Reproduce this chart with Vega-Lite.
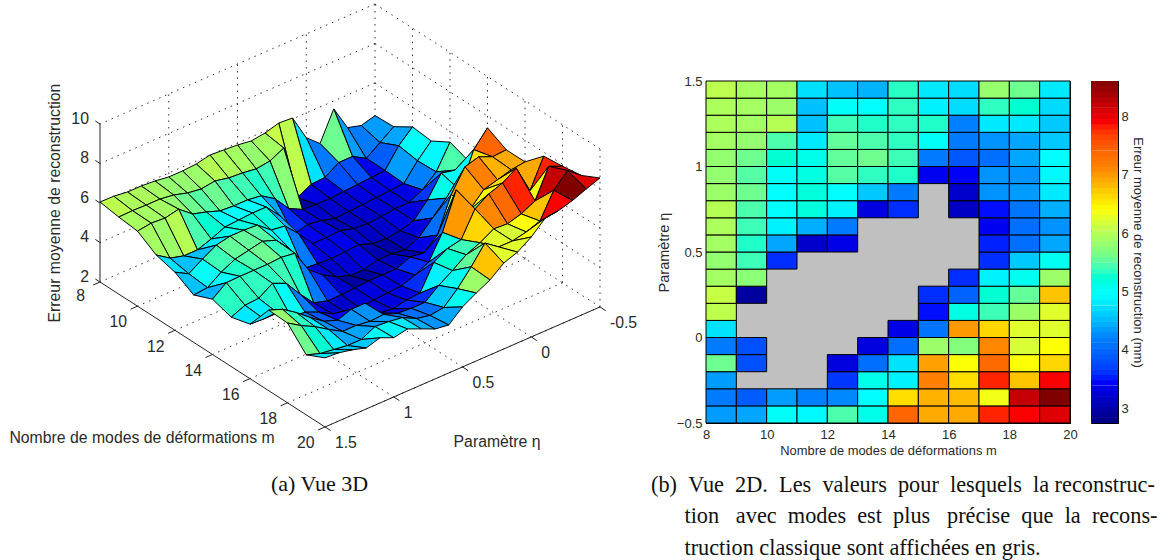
{"$schema":"https://vega.github.io/schema/vega-lite/v6.json","padding":0,"background":"white","bounds":"flush","spacing":0,
"config":{"view":{"stroke":null},"font":"Liberation Sans","title":{"fontWeight":"normal"}},
"datasets":{
"grid":[
{"k":800,"m":8,"eta":-0.5,"z":4.35},{"k":801,"m":8,"eta":-0.4,"z":4.15},{"k":802,"m":8,"eta":-0.3,"z":4.35},{"k":803,"m":8,"eta":-0.2,"z":5.6},{"k":804,"m":8,"eta":-0.1,"z":4.15},{"k":805,"m":8,"eta":0,"z":4.75},{"k":806,"m":8,"eta":0.1,"z":6.05},{"k":807,"m":8,"eta":0.2,"z":6.1},{"k":808,"m":8,"eta":0.3,"z":5.9},{"k":809,"m":8,"eta":0.4,"z":5.8},{"k":810,"m":8,"eta":0.5,"z":5.9},{"k":811,"m":8,"eta":0.6,"z":5.95},{"k":812,"m":8,"eta":0.7,"z":6.0},{"k":813,"m":8,"eta":0.8,"z":5.85},{"k":814,"m":8,"eta":0.9,"z":5.8},{"k":815,"m":8,"eta":1.0,"z":5.8},{"k":816,"m":8,"eta":1.1,"z":5.9},{"k":817,"m":8,"eta":1.2,"z":5.95},{"k":818,"m":8,"eta":1.3,"z":5.95},{"k":819,"m":8,"eta":1.4,"z":6.04},{"k":820,"m":8,"eta":1.5,"z":6.05},
{"k":900,"m":9,"eta":-0.5,"z":4.4},{"k":901,"m":9,"eta":-0.4,"z":3.9},{"k":902,"m":9,"eta":-0.3,"z":3.4,"best":1},{"k":903,"m":9,"eta":-0.2,"z":3.8},{"k":904,"m":9,"eta":-0.1,"z":3.8},{"k":905,"m":9,"eta":0,"z":3.35,"best":1},{"k":906,"m":9,"eta":0.1,"z":3.3,"best":1},{"k":907,"m":9,"eta":0.2,"z":2.95},{"k":908,"m":9,"eta":0.3,"z":5.75},{"k":909,"m":9,"eta":0.4,"z":5.4},{"k":910,"m":9,"eta":0.5,"z":5.3},{"k":911,"m":9,"eta":0.6,"z":5.4},{"k":912,"m":9,"eta":0.7,"z":5.45},{"k":913,"m":9,"eta":0.8,"z":5.6},{"k":914,"m":9,"eta":0.9,"z":5.5},{"k":915,"m":9,"eta":1.0,"z":5.6},{"k":916,"m":9,"eta":1.1,"z":5.8},{"k":917,"m":9,"eta":1.2,"z":5.9},{"k":918,"m":9,"eta":1.3,"z":5.9},{"k":919,"m":9,"eta":1.4,"z":5.92},{"k":920,"m":9,"eta":1.5,"z":5.9},
{"k":1000,"m":10,"eta":-0.5,"z":5.0},{"k":1001,"m":10,"eta":-0.4,"z":4.35},{"k":1002,"m":10,"eta":-0.3,"z":3.4,"best":1},{"k":1003,"m":10,"eta":-0.2,"z":3.35,"best":1},{"k":1004,"m":10,"eta":-0.1,"z":3.3,"best":1},{"k":1005,"m":10,"eta":0,"z":3.25,"best":1},{"k":1006,"m":10,"eta":0.1,"z":3.2,"best":1},{"k":1007,"m":10,"eta":0.2,"z":3.2,"best":1},{"k":1008,"m":10,"eta":0.3,"z":3.25,"best":1},{"k":1009,"m":10,"eta":0.4,"z":3.6},{"k":1010,"m":10,"eta":0.5,"z":4.4},{"k":1011,"m":10,"eta":0.6,"z":4.85},{"k":1012,"m":10,"eta":0.7,"z":4.95},{"k":1013,"m":10,"eta":0.8,"z":4.95},{"k":1014,"m":10,"eta":0.9,"z":5.0},{"k":1015,"m":10,"eta":1.0,"z":5.25},{"k":1016,"m":10,"eta":1.1,"z":5.45},{"k":1017,"m":10,"eta":1.2,"z":6.0},{"k":1018,"m":10,"eta":1.3,"z":5.85},{"k":1019,"m":10,"eta":1.4,"z":5.9},{"k":1020,"m":10,"eta":1.5,"z":5.8},
{"k":1100,"m":11,"eta":-0.5,"z":4.9},{"k":1101,"m":11,"eta":-0.4,"z":4.2},{"k":1102,"m":11,"eta":-0.3,"z":3.35,"best":1},{"k":1103,"m":11,"eta":-0.2,"z":3.3,"best":1},{"k":1104,"m":11,"eta":-0.1,"z":3.25,"best":1},{"k":1105,"m":11,"eta":0,"z":3.2,"best":1},{"k":1106,"m":11,"eta":0.1,"z":3.15,"best":1},{"k":1107,"m":11,"eta":0.2,"z":3.1,"best":1},{"k":1108,"m":11,"eta":0.3,"z":3.3,"best":1},{"k":1109,"m":11,"eta":0.4,"z":3.4,"best":1},{"k":1110,"m":11,"eta":0.5,"z":3.2},{"k":1111,"m":11,"eta":0.6,"z":4.45},{"k":1112,"m":11,"eta":0.7,"z":5.2},{"k":1113,"m":11,"eta":0.8,"z":5.2},{"k":1114,"m":11,"eta":0.9,"z":5.15},{"k":1115,"m":11,"eta":1.0,"z":5.1},{"k":1116,"m":11,"eta":1.1,"z":4.8},{"k":1117,"m":11,"eta":1.2,"z":4.55},{"k":1118,"m":11,"eta":1.3,"z":4.55},{"k":1119,"m":11,"eta":1.4,"z":4.74},{"k":1120,"m":11,"eta":1.5,"z":5.2},
{"k":1200,"m":12,"eta":-0.5,"z":5.45},{"k":1201,"m":12,"eta":-0.4,"z":4.25},{"k":1202,"m":12,"eta":-0.3,"z":3.65},{"k":1203,"m":12,"eta":-0.2,"z":3.3},{"k":1204,"m":12,"eta":-0.1,"z":3.3,"best":1},{"k":1205,"m":12,"eta":0,"z":3.2,"best":1},{"k":1206,"m":12,"eta":0.1,"z":3.15,"best":1},{"k":1207,"m":12,"eta":0.2,"z":3.2,"best":1},{"k":1208,"m":12,"eta":0.3,"z":3.4,"best":1},{"k":1209,"m":12,"eta":0.4,"z":3.35,"best":1},{"k":1210,"m":12,"eta":0.5,"z":3.35},{"k":1211,"m":12,"eta":0.6,"z":4.15},{"k":1212,"m":12,"eta":0.7,"z":4.85},{"k":1213,"m":12,"eta":0.8,"z":4.95},{"k":1214,"m":12,"eta":0.9,"z":5.5},{"k":1215,"m":12,"eta":1.0,"z":5.55},{"k":1216,"m":12,"eta":1.1,"z":5.55},{"k":1217,"m":12,"eta":1.2,"z":5.4},{"k":1218,"m":12,"eta":1.3,"z":5.0},{"k":1219,"m":12,"eta":1.4,"z":4.56},{"k":1220,"m":12,"eta":1.5,"z":4.94},
{"k":1300,"m":13,"eta":-0.5,"z":5.1},{"k":1301,"m":13,"eta":-0.4,"z":4.95},{"k":1302,"m":13,"eta":-0.3,"z":5.1},{"k":1303,"m":13,"eta":-0.2,"z":4.05},{"k":1304,"m":13,"eta":-0.1,"z":3.3},{"k":1305,"m":13,"eta":0,"z":3.1,"best":1},{"k":1306,"m":13,"eta":0.1,"z":3.0,"best":1},{"k":1307,"m":13,"eta":0.2,"z":3.05,"best":1},{"k":1308,"m":13,"eta":0.3,"z":3.3,"best":1},{"k":1309,"m":13,"eta":0.4,"z":3.25,"best":1},{"k":1310,"m":13,"eta":0.5,"z":3.2,"best":1},{"k":1311,"m":13,"eta":0.6,"z":3.25,"best":1},{"k":1312,"m":13,"eta":0.7,"z":3.3},{"k":1313,"m":13,"eta":0.8,"z":4.6},{"k":1314,"m":13,"eta":0.9,"z":5.35},{"k":1315,"m":13,"eta":1.0,"z":5.6},{"k":1316,"m":13,"eta":1.1,"z":5.45},{"k":1317,"m":13,"eta":1.2,"z":5.3},{"k":1318,"m":13,"eta":1.3,"z":4.95},{"k":1319,"m":13,"eta":1.4,"z":4.47},{"k":1320,"m":13,"eta":1.5,"z":4.4},
{"k":1400,"m":14,"eta":-0.5,"z":7.4},{"k":1401,"m":14,"eta":-0.4,"z":6.6},{"k":1402,"m":14,"eta":-0.3,"z":4.85},{"k":1403,"m":14,"eta":-0.2,"z":4.75},{"k":1404,"m":14,"eta":-0.1,"z":4.05},{"k":1405,"m":14,"eta":0,"z":3.35},{"k":1406,"m":14,"eta":0.1,"z":3.05,"best":1},{"k":1407,"m":14,"eta":0.2,"z":3.15,"best":1},{"k":1408,"m":14,"eta":0.3,"z":3.15,"best":1},{"k":1409,"m":14,"eta":0.4,"z":2.95,"best":1},{"k":1410,"m":14,"eta":0.5,"z":2.95,"best":1},{"k":1411,"m":14,"eta":0.6,"z":3.2,"best":1},{"k":1412,"m":14,"eta":0.7,"z":3.6},{"k":1413,"m":14,"eta":0.8,"z":4.15},{"k":1414,"m":14,"eta":0.9,"z":5.3},{"k":1415,"m":14,"eta":1.0,"z":5.4},{"k":1416,"m":14,"eta":1.1,"z":5.35},{"k":1417,"m":14,"eta":1.2,"z":5.35},{"k":1418,"m":14,"eta":1.3,"z":5.35},{"k":1419,"m":14,"eta":1.4,"z":5.33},{"k":1420,"m":14,"eta":1.5,"z":4.8},
{"k":1500,"m":15,"eta":-0.5,"z":6.9},{"k":1501,"m":15,"eta":-0.4,"z":6.85},{"k":1502,"m":15,"eta":-0.3,"z":7.15},{"k":1503,"m":15,"eta":-0.2,"z":6.95},{"k":1504,"m":15,"eta":-0.1,"z":5.85},{"k":1505,"m":15,"eta":0,"z":4.1},{"k":1506,"m":15,"eta":0.1,"z":3.5},{"k":1507,"m":15,"eta":0.2,"z":3.6},{"k":1508,"m":15,"eta":0.3,"z":3.3,"best":1},{"k":1509,"m":15,"eta":0.4,"z":3.3,"best":1},{"k":1510,"m":15,"eta":0.5,"z":3.3,"best":1},{"k":1511,"m":15,"eta":0.6,"z":3.25,"best":1},{"k":1512,"m":15,"eta":0.7,"z":3.2,"best":1},{"k":1513,"m":15,"eta":0.8,"z":3.2,"best":1},{"k":1514,"m":15,"eta":0.9,"z":3.4},{"k":1515,"m":15,"eta":1.0,"z":4.15},{"k":1516,"m":15,"eta":1.1,"z":5.0},{"k":1517,"m":15,"eta":1.2,"z":5.3},{"k":1518,"m":15,"eta":1.3,"z":4.85},{"k":1519,"m":15,"eta":1.4,"z":4.8},{"k":1520,"m":15,"eta":1.5,"z":4.5},
{"k":1600,"m":16,"eta":-0.5,"z":6.9},{"k":1601,"m":16,"eta":-0.4,"z":6.8},{"k":1602,"m":16,"eta":-0.3,"z":6.6},{"k":1603,"m":16,"eta":-0.2,"z":6.4},{"k":1604,"m":16,"eta":-0.1,"z":5.7},{"k":1605,"m":16,"eta":0,"z":7.0},{"k":1606,"m":16,"eta":0.1,"z":5.15},{"k":1607,"m":16,"eta":0.2,"z":3.95},{"k":1608,"m":16,"eta":0.3,"z":3.6},{"k":1609,"m":16,"eta":0.4,"z":3.35,"best":1},{"k":1610,"m":16,"eta":0.5,"z":3.3,"best":1},{"k":1611,"m":16,"eta":0.6,"z":3.25,"best":1},{"k":1612,"m":16,"eta":0.7,"z":3.15},{"k":1613,"m":16,"eta":0.8,"z":3.2},{"k":1614,"m":16,"eta":0.9,"z":3.45},{"k":1615,"m":16,"eta":1.0,"z":3.85},{"k":1616,"m":16,"eta":1.1,"z":4.15},{"k":1617,"m":16,"eta":1.2,"z":4.2},{"k":1618,"m":16,"eta":1.3,"z":4.72},{"k":1619,"m":16,"eta":1.4,"z":4.72},{"k":1620,"m":16,"eta":1.5,"z":4.76},
{"k":1700,"m":17,"eta":-0.5,"z":7.8},{"k":1701,"m":17,"eta":-0.4,"z":6.35},{"k":1702,"m":17,"eta":-0.3,"z":7.8},{"k":1703,"m":17,"eta":-0.2,"z":7.35},{"k":1704,"m":17,"eta":-0.1,"z":7.1},{"k":1705,"m":17,"eta":0,"z":6.65},{"k":1706,"m":17,"eta":0.1,"z":5.4},{"k":1707,"m":17,"eta":0.2,"z":5.25},{"k":1708,"m":17,"eta":0.3,"z":4.85},{"k":1709,"m":17,"eta":0.4,"z":3.6},{"k":1710,"m":17,"eta":0.5,"z":3.55},{"k":1711,"m":17,"eta":0.6,"z":3.4},{"k":1712,"m":17,"eta":0.7,"z":3.5},{"k":1713,"m":17,"eta":0.8,"z":4.3},{"k":1714,"m":17,"eta":0.9,"z":4.3},{"k":1715,"m":17,"eta":1.0,"z":4.05},{"k":1716,"m":17,"eta":1.1,"z":4.3},{"k":1717,"m":17,"eta":1.2,"z":4.8},{"k":1718,"m":17,"eta":1.3,"z":5.35},{"k":1719,"m":17,"eta":1.4,"z":5.82},{"k":1720,"m":17,"eta":1.5,"z":6.08},
{"k":1800,"m":18,"eta":-0.5,"z":7.9},{"k":1801,"m":18,"eta":-0.4,"z":8.2},{"k":1802,"m":18,"eta":-0.3,"z":6.75},{"k":1803,"m":18,"eta":-0.2,"z":6.4},{"k":1804,"m":18,"eta":-0.1,"z":6.2},{"k":1805,"m":18,"eta":0,"z":6.25},{"k":1806,"m":18,"eta":0.1,"z":5.85},{"k":1807,"m":18,"eta":0.2,"z":5.55},{"k":1808,"m":18,"eta":0.3,"z":5.05},{"k":1809,"m":18,"eta":0.4,"z":4.6},{"k":1810,"m":18,"eta":0.5,"z":4.05},{"k":1811,"m":18,"eta":0.6,"z":4.05},{"k":1812,"m":18,"eta":0.7,"z":4.1},{"k":1813,"m":18,"eta":0.8,"z":4.35},{"k":1814,"m":18,"eta":0.9,"z":4.3},{"k":1815,"m":18,"eta":1.0,"z":4.4},{"k":1816,"m":18,"eta":1.1,"z":4.4},{"k":1817,"m":18,"eta":1.2,"z":4.8},{"k":1818,"m":18,"eta":1.3,"z":5.25},{"k":1819,"m":18,"eta":1.4,"z":5.6},{"k":1820,"m":18,"eta":1.5,"z":6.04},
{"k":1900,"m":19,"eta":-0.5,"z":8.05},{"k":1901,"m":19,"eta":-0.4,"z":8.6},{"k":1902,"m":19,"eta":-0.3,"z":7.9},{"k":1903,"m":19,"eta":-0.2,"z":6.65},{"k":1904,"m":19,"eta":-0.1,"z":6.4},{"k":1905,"m":19,"eta":0,"z":6.25},{"k":1906,"m":19,"eta":0.1,"z":6.25},{"k":1907,"m":19,"eta":0.2,"z":6.75},{"k":1908,"m":19,"eta":0.3,"z":5.85},{"k":1909,"m":19,"eta":0.4,"z":5.05},{"k":1910,"m":19,"eta":0.5,"z":4.4},{"k":1911,"m":19,"eta":0.6,"z":4.3},{"k":1912,"m":19,"eta":0.7,"z":4.45},{"k":1913,"m":19,"eta":0.8,"z":4.8},{"k":1914,"m":19,"eta":0.9,"z":4.9},{"k":1915,"m":19,"eta":1.0,"z":4.95},{"k":1916,"m":19,"eta":1.1,"z":4.6},{"k":1917,"m":19,"eta":1.2,"z":4.6},{"k":1918,"m":19,"eta":1.3,"z":4.7},{"k":1919,"m":19,"eta":1.4,"z":4.8},{"k":1920,"m":19,"eta":1.5,"z":5.04},
{"k":2000,"m":20,"eta":-0.5,"z":8.53},{"k":2001,"m":20,"eta":-0.4,"z":8.28},{"k":2002,"m":20,"eta":-0.3,"z":8.0},{"k":2003,"m":20,"eta":-0.2,"z":7.8},{"k":2004,"m":20,"eta":-0.1,"z":7.7},{"k":2005,"m":20,"eta":0,"z":7.06},{"k":2006,"m":20,"eta":0.1,"z":6.6},{"k":2007,"m":20,"eta":0.2,"z":6.35},{"k":2008,"m":20,"eta":0.3,"z":5.8},{"k":2009,"m":20,"eta":0.4,"z":5.44},{"k":2010,"m":20,"eta":0.5,"z":5.04},{"k":2011,"m":20,"eta":0.6,"z":4.43},{"k":2012,"m":20,"eta":0.7,"z":4.53},{"k":2013,"m":20,"eta":0.8,"z":4.84},{"k":2014,"m":20,"eta":0.9,"z":5.14},{"k":2015,"m":20,"eta":1.0,"z":5.0},{"k":2016,"m":20,"eta":1.1,"z":5.3},{"k":2017,"m":20,"eta":1.2,"z":5.09},{"k":2018,"m":20,"eta":1.3,"z":5.3},{"k":2019,"m":20,"eta":1.4,"z":5.45},{"k":2020,"m":20,"eta":1.5,"z":5.5}
]},
"hconcat":[
{"width":706,"height":450,"view":{"fill":"white","stroke":null},
"title":{"text":"(a) Vue 3D","orient":"bottom","anchor":"start","frame":"group","dx":271,"offset":23,"font":"Liberation Serif","fontSize":22,"color":"#111"},
"encoding":{
"x":{"field":"sx","type":"quantitative","scale":{"domain":[0,706],"nice":false,"zero":false},"axis":null},
"y":{"field":"sy","type":"quantitative","scale":{"domain":[450,0],"nice":false,"zero":false},"axis":null}},
"layer":[
{"data":{"values":[
{"l":1,"p":0,"m":8,"eta":-0.5,"z":2},{"l":1,"p":1,"m":8,"eta":1.5,"z":2},{"l":2,"p":0,"m":10,"eta":-0.5,"z":2},{"l":2,"p":1,"m":10,"eta":1.5,"z":2},{"l":3,"p":0,"m":12,"eta":-0.5,"z":2},{"l":3,"p":1,"m":12,"eta":1.5,"z":2},{"l":4,"p":0,"m":14,"eta":-0.5,"z":2},{"l":4,"p":1,"m":14,"eta":1.5,"z":2},{"l":5,"p":0,"m":16,"eta":-0.5,"z":2},{"l":5,"p":1,"m":16,"eta":1.5,"z":2},{"l":6,"p":0,"m":18,"eta":-0.5,"z":2},{"l":6,"p":1,"m":18,"eta":1.5,"z":2},{"l":7,"p":0,"m":20,"eta":-0.5,"z":2},{"l":7,"p":1,"m":20,"eta":1.5,"z":2},
{"l":8,"p":0,"m":8,"eta":-0.5,"z":2},{"l":8,"p":1,"m":20,"eta":-0.5,"z":2},{"l":9,"p":0,"m":8,"eta":0,"z":2},{"l":9,"p":1,"m":20,"eta":0,"z":2},{"l":10,"p":0,"m":8,"eta":0.5,"z":2},{"l":10,"p":1,"m":20,"eta":0.5,"z":2},{"l":11,"p":0,"m":8,"eta":1,"z":2},{"l":11,"p":1,"m":20,"eta":1,"z":2},
{"l":12,"p":0,"m":8,"eta":-0.5,"z":4},{"l":12,"p":1,"m":8,"eta":1.5,"z":4},{"l":13,"p":0,"m":8,"eta":-0.5,"z":6},{"l":13,"p":1,"m":8,"eta":1.5,"z":6},{"l":14,"p":0,"m":8,"eta":-0.5,"z":8},{"l":14,"p":1,"m":8,"eta":1.5,"z":8},{"l":15,"p":0,"m":8,"eta":-0.5,"z":10},{"l":15,"p":1,"m":8,"eta":1.5,"z":10},
{"l":16,"p":0,"m":8,"eta":1,"z":2},{"l":16,"p":1,"m":8,"eta":1,"z":10},{"l":17,"p":0,"m":8,"eta":0.5,"z":2},{"l":17,"p":1,"m":8,"eta":0.5,"z":10},{"l":18,"p":0,"m":8,"eta":0,"z":2},{"l":18,"p":1,"m":8,"eta":0,"z":10},{"l":19,"p":0,"m":8,"eta":-0.5,"z":2},{"l":19,"p":1,"m":8,"eta":-0.5,"z":10},
{"l":20,"p":0,"m":8,"eta":-0.5,"z":4},{"l":20,"p":1,"m":20,"eta":-0.5,"z":4},{"l":21,"p":0,"m":8,"eta":-0.5,"z":6},{"l":21,"p":1,"m":20,"eta":-0.5,"z":6},{"l":22,"p":0,"m":8,"eta":-0.5,"z":8},{"l":22,"p":1,"m":20,"eta":-0.5,"z":8},{"l":23,"p":0,"m":8,"eta":-0.5,"z":10},{"l":23,"p":1,"m":20,"eta":-0.5,"z":10},
{"l":24,"p":0,"m":10,"eta":-0.5,"z":2},{"l":24,"p":1,"m":10,"eta":-0.5,"z":10},{"l":25,"p":0,"m":12,"eta":-0.5,"z":2},{"l":25,"p":1,"m":12,"eta":-0.5,"z":10},{"l":26,"p":0,"m":14,"eta":-0.5,"z":2},{"l":26,"p":1,"m":14,"eta":-0.5,"z":10},{"l":27,"p":0,"m":16,"eta":-0.5,"z":2},{"l":27,"p":1,"m":16,"eta":-0.5,"z":10},{"l":28,"p":0,"m":18,"eta":-0.5,"z":2},{"l":28,"p":1,"m":18,"eta":-0.5,"z":10},{"l":29,"p":0,"m":20,"eta":-0.5,"z":2},{"l":29,"p":1,"m":20,"eta":-0.5,"z":10}
]},
"transform":[{"calculate":"100+18.75*(datum.m-8)+137.5*(1.5-datum.eta)","as":"sx"},{"calculate":"282+12.08*(datum.m-8)-60*(1.5-datum.eta)-19.75*(datum.z-2)","as":"sy"}],
"mark":{"type":"line","stroke":"#333333","strokeWidth":1,"strokeDash":[1.5,5]},
"encoding":{"detail":{"field":"l"},"order":{"field":"p"}}},
{"data":{"values":[
{"l":1,"p":0,"m":8,"eta":1.5,"z":2},{"l":1,"p":1,"m":20,"eta":1.5,"z":2},{"l":2,"p":0,"m":20,"eta":1.5,"z":2},{"l":2,"p":1,"m":20,"eta":-0.5,"z":2},{"l":3,"p":0,"m":8,"eta":1.5,"z":2},{"l":3,"p":1,"m":8,"eta":1.5,"z":10},
{"l":4,"p":0,"m":8,"eta":1.5,"z":2},{"l":4,"p":1,"m":8,"eta":1.55,"z":2},{"l":5,"p":0,"m":10,"eta":1.5,"z":2},{"l":5,"p":1,"m":10,"eta":1.55,"z":2},{"l":6,"p":0,"m":12,"eta":1.5,"z":2},{"l":6,"p":1,"m":12,"eta":1.55,"z":2},{"l":7,"p":0,"m":14,"eta":1.5,"z":2},{"l":7,"p":1,"m":14,"eta":1.55,"z":2},{"l":8,"p":0,"m":16,"eta":1.5,"z":2},{"l":8,"p":1,"m":16,"eta":1.55,"z":2},{"l":9,"p":0,"m":18,"eta":1.5,"z":2},{"l":9,"p":1,"m":18,"eta":1.55,"z":2},{"l":10,"p":0,"m":20,"eta":1.5,"z":2},{"l":10,"p":1,"m":20,"eta":1.55,"z":2},
{"l":11,"p":0,"m":20,"eta":1.5,"z":2},{"l":11,"p":1,"m":20.3,"eta":1.5,"z":2},{"l":12,"p":0,"m":20,"eta":1,"z":2},{"l":12,"p":1,"m":20.3,"eta":1,"z":2},{"l":13,"p":0,"m":20,"eta":0.5,"z":2},{"l":13,"p":1,"m":20.3,"eta":0.5,"z":2},{"l":14,"p":0,"m":20,"eta":0,"z":2},{"l":14,"p":1,"m":20.3,"eta":0,"z":2},{"l":15,"p":0,"m":20,"eta":-0.5,"z":2},{"l":15,"p":1,"m":20.3,"eta":-0.5,"z":2},
{"l":16,"p":0,"m":8,"eta":1.5,"z":2},{"l":16,"p":1,"m":7.75,"eta":1.5,"z":2},{"l":17,"p":0,"m":8,"eta":1.5,"z":4},{"l":17,"p":1,"m":7.75,"eta":1.5,"z":4},{"l":18,"p":0,"m":8,"eta":1.5,"z":6},{"l":18,"p":1,"m":7.75,"eta":1.5,"z":6},{"l":19,"p":0,"m":8,"eta":1.5,"z":8},{"l":19,"p":1,"m":7.75,"eta":1.5,"z":8},{"l":20,"p":0,"m":8,"eta":1.5,"z":10},{"l":20,"p":1,"m":7.75,"eta":1.5,"z":10}
]},
"transform":[{"calculate":"100+18.75*(datum.m-8)+137.5*(1.5-datum.eta)","as":"sx"},{"calculate":"282+12.08*(datum.m-8)-60*(1.5-datum.eta)-19.75*(datum.z-2)","as":"sy"}],
"mark":{"type":"line","stroke":"#222222","strokeWidth":1},
"encoding":{"detail":{"field":"l"},"order":{"field":"p"}}},
{"data":{"name":"grid"},
"transform":[{"filter":"datum.m<20 && datum.eta<1.5"},{"calculate":"[0,1,2,3]","as":"corner"},{"flatten":["corner"]},
{"calculate":"datum.m+((datum.corner==1||datum.corner==2)?1:0)","as":"cm"},
{"calculate":"round(datum.eta*10)+5+(datum.corner>=2?1:0)","as":"ci"},
{"calculate":"datum.cm*100+datum.ci","as":"ck"},
{"lookup":"ck","from":{"data":{"name":"grid"},"key":"k","fields":["z"]},"as":["cz"]},
{"calculate":"100+18.75*(datum.cm-8)+137.5*(1.5-(datum.ci-5)/10)","as":"sx"},
{"calculate":"282+12.08*(datum.cm-8)-60*(1.5-(datum.ci-5)/10)-19.75*(datum.cz-2)","as":"sy"}],
"mark":{"type":"line","interpolate":"linear-closed","stroke":"#000000","strokeWidth":1},
"encoding":{"detail":{"field":"k"},"order":{"field":"corner"},
"fill":{"field":"z","type":"quantitative","legend":null,"scale":{"domain":[2.75,3.48,4.21,4.94,5.68,6.41,7.14,7.87,8.6],"range":["#000080","#0000ff","#0080ff","#00ffff","#80ff80","#ffff00","#ff8000","#ff0000","#800000"]}}}},
{"data":{"values":[
{"t":"8","m":8,"eta":1.64,"z":1.7},{"t":"10","m":10,"eta":1.64,"z":1.6},{"t":"12","m":12,"eta":1.64,"z":1.6},{"t":"14","m":14,"eta":1.64,"z":1.6},{"t":"16","m":16,"eta":1.64,"z":1.6},{"t":"18","m":18,"eta":1.64,"z":1.6},{"t":"20","m":20,"eta":1.64,"z":1.6},
{"t":"Nombre de modes de déformations m","m":10.24,"eta":1.5,"z":-4.53},{"t":"Paramètre η","m":20,"eta":0.249,"z":-2.56}
]},
"transform":[{"calculate":"100+18.75*(datum.m-8)+137.5*(1.5-datum.eta)","as":"sx"},{"calculate":"282+12.08*(datum.m-8)-60*(1.5-datum.eta)-19.75*(datum.z-2)","as":"sy"}],
"mark":{"type":"text","align":"center","baseline":"middle","fontSize":15.8,"color":"#2a2a2a"},"encoding":{"text":{"field":"t"}}},
{"data":{"values":[
{"t":"1.5","m":20.53,"eta":1.5,"z":1.5},{"t":"1","m":20.53,"eta":1,"z":1.5},{"t":"0.5","m":20.53,"eta":0.5,"z":1.5},{"t":"0","m":20.53,"eta":0,"z":1.5},{"t":"-0.5","m":20.53,"eta":-0.5,"z":1.5}
]},
"transform":[{"calculate":"100+18.75*(datum.m-8)+137.5*(1.5-datum.eta)","as":"sx"},{"calculate":"282+12.08*(datum.m-8)-60*(1.5-datum.eta)-19.75*(datum.z-2)","as":"sy"}],
"mark":{"type":"text","align":"left","baseline":"middle","fontSize":15.8,"color":"#2a2a2a"},"encoding":{"text":{"field":"t"}}},
{"data":{"values":[
{"t":"2","m":7.41,"eta":1.5,"z":1.9},{"t":"4","m":7.41,"eta":1.5,"z":3.9},{"t":"6","m":7.41,"eta":1.5,"z":5.9},{"t":"8","m":7.41,"eta":1.5,"z":7.9},{"t":"10","m":7.41,"eta":1.5,"z":9.9}
]},
"transform":[{"calculate":"100+18.75*(datum.m-8)+137.5*(1.5-datum.eta)","as":"sx"},{"calculate":"282+12.08*(datum.m-8)-60*(1.5-datum.eta)-19.75*(datum.z-2)","as":"sy"}],
"mark":{"type":"text","align":"right","baseline":"middle","fontSize":15.8,"color":"#2a2a2a"},"encoding":{"text":{"field":"t"}}},
{"data":{"values":[{"t":"Erreur moyenne de reconstruction","m":8,"eta":1.827,"z":6.99}]},
"transform":[{"calculate":"100+18.75*(datum.m-8)+137.5*(1.5-datum.eta)","as":"sx"},{"calculate":"282+12.08*(datum.m-8)-60*(1.5-datum.eta)-19.75*(datum.z-2)","as":"sy"}],
"mark":{"type":"text","align":"center","baseline":"middle","angle":270,"fontSize":15.8,"color":"#2a2a2a"},"encoding":{"text":{"field":"t"}}}
]},
{"bounds":"flush","spacing":0,"vconcat":[
{"width":10,"height":81,"data":{"values":[{"n":0}]},"mark":{"type":"point","opacity":0},"encoding":{}},
{"bounds":"flush","spacing":21,"hconcat":[
{"width":364,"height":342,"view":{"stroke":"#000000"},
"title":{"text":["(b)\u00a0\u00a0Vue\u00a0\u00a02D.\u00a0\u00a0Les\u00a0\u00a0valeurs\u00a0\u00a0pour\u00a0\u00a0lesquels\u00a0\u00a0la\u00a0reconstruc-","\u200b\u00a0\u00a0\u00a0\u00a0\u00a0\u00a0tion\u00a0\u00a0\u00a0avec\u00a0\u00a0modes\u00a0\u00a0est\u00a0\u00a0plus\u00a0\u00a0\u00a0précise\u00a0\u00a0que\u00a0\u00a0la\u00a0\u00a0recons-","\u200b\u00a0\u00a0\u00a0\u00a0\u00a0\u00a0truction\u00a0classique\u00a0sont\u00a0affichées\u00a0en\u00a0gris."],"orient":"bottom","anchor":"start","frame":"group","dx":-55,"offset":17,"font":"Liberation Serif","fontSize":22.3,"lineHeight":31.5,"color":"#111"},
"data":{"name":"grid"},
"transform":[{"filter":"datum.m<20 && datum.eta<1.5"},{"calculate":"datum.m+1","as":"m2"},{"calculate":"datum.eta+0.1","as":"eta2"}],
"encoding":{
"x":{"field":"m","type":"quantitative","scale":{"domain":[8,20],"nice":false,"zero":false},"axis":{"values":[8,10,12,14,16,18,20],"title":"Nombre de modes de déformations m","titleFontSize":12.9,"titleFontWeight":"normal","titleColor":"#2a2a2a","titlePadding":3,"labelFontSize":13,"labelColor":"#2a2a2a","grid":false,"tickSize":-4,"tickColor":"#000","domainColor":"#000","labelPadding":9,"labelFlush":false}},
"x2":{"field":"m2"},
"y":{"field":"eta","type":"quantitative","scale":{"domain":[-0.5,1.5],"nice":false,"zero":false},"axis":{"values":[-0.5,0,0.5,1,1.5],"format":"~g","title":"Paramètre η","titleFontSize":14.5,"titleFontWeight":"normal","titleColor":"#2a2a2a","titlePadding":5,"labelFontSize":13,"labelColor":"#2a2a2a","grid":false,"tickSize":-4,"tickColor":"#000","domainColor":"#000","labelPadding":8}},
"y2":{"field":"eta2"}},
"layer":[
{"transform":[{"filter":"datum.best==1"}],"mark":{"type":"rect","fill":"#c0c0c0","stroke":"#c0c0c0","strokeWidth":1}},
{"transform":[{"filter":"datum.best!=1"}],"mark":{"type":"rect","stroke":"#000000","strokeWidth":1},
"encoding":{"fill":{"field":"z","type":"quantitative","legend":null,"scale":{"domain":[2.75,3.48,4.21,4.94,5.68,6.41,7.14,7.87,8.6],"range":["#000080","#0000ff","#0080ff","#00ffff","#80ff80","#ffff00","#ff8000","#ff0000","#800000"]}}}}
]},
{"width":27,"height":342,"view":{"stroke":"#000000"},
"data":{"values":[{"mid":2.8},{"mid":2.89},{"mid":2.98},{"mid":3.07},{"mid":3.16},{"mid":3.25},{"mid":3.34},{"mid":3.44},{"mid":3.53},{"mid":3.62},{"mid":3.71},{"mid":3.8},{"mid":3.89},{"mid":3.98},{"mid":4.07},{"mid":4.17},{"mid":4.26},{"mid":4.35},{"mid":4.44},{"mid":4.53},{"mid":4.62},{"mid":4.71},{"mid":4.81},{"mid":4.9},{"mid":4.99},{"mid":5.08},{"mid":5.17},{"mid":5.26},{"mid":5.35},{"mid":5.44},{"mid":5.54},{"mid":5.63},{"mid":5.72},{"mid":5.81},{"mid":5.9},{"mid":5.99},{"mid":6.09},{"mid":6.18},{"mid":6.27},{"mid":6.36},{"mid":6.45},{"mid":6.54},{"mid":6.63},{"mid":6.72},{"mid":6.82},{"mid":6.91},{"mid":7.0},{"mid":7.09},{"mid":7.18},{"mid":7.27},{"mid":7.36},{"mid":7.46},{"mid":7.55},{"mid":7.64},{"mid":7.73},{"mid":7.82},{"mid":7.91},{"mid":8.0},{"mid":8.09},{"mid":8.19},{"mid":8.28},{"mid":8.37},{"mid":8.46},{"mid":8.55}]},
"transform":[{"calculate":"datum.mid-0.05","as":"lo"},{"calculate":"datum.mid+0.05","as":"hi"}],
"mark":{"type":"rect"},
"encoding":{
"y":{"field":"lo","type":"quantitative","scale":{"domain":[2.75,8.6],"nice":false,"zero":false},"axis":{"orient":"right","values":[3,4,5,6,7,8],"title":"Erreur moyenne de reconstruction (mm)","titleFontSize":13,"titleFontWeight":"normal","titleColor":"#2a2a2a","titlePadding":2,"labelFontSize":13,"labelColor":"#2a2a2a","grid":false,"tickSize":-4,"tickColor":"#000","domainColor":"#000","labelPadding":7}},
"y2":{"field":"hi"},
"fill":{"field":"mid","type":"quantitative","legend":null,"scale":{"domain":[2.75,3.48,4.21,4.94,5.68,6.41,7.14,7.87,8.6],"range":["#000080","#0000ff","#0080ff","#00ffff","#80ff80","#ffff00","#ff8000","#ff0000","#800000"]}}}}
]}
]}
]}
